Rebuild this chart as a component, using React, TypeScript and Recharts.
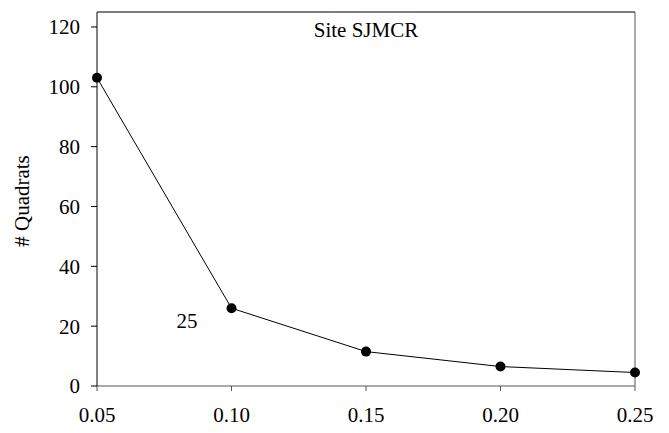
import { LineChart, Line, XAxis, YAxis, ReferenceLine, ReferenceDot } from "recharts";

const thresholds = [0.05, 0.1, 0.15, 0.2, 0.25];
const quadrats = [103, 26, 11.5, 6.5, 4.5];
const xTicks = [0.05, 0.1, 0.15, 0.2, 0.25];
const yTicks = [0, 20, 40, 60, 80, 100, 120];

const data = thresholds.map((t, i) => ({ t, n: quadrats[i] }));

const FONT = "'Liberation Serif', 'Times New Roman', serif";
const FS = 21;

export default function App() {
  return (
    <div style={{ position: "absolute", left: 0, top: 0, background: "#fff" }}>
      <LineChart
        width={669}
        height={433}
        data={data}
        margin={{ top: 12, right: 34, left: 0, bottom: 0 }}
      >
        <XAxis
          dataKey="t"
          type="number"
          domain={[0.05, 0.25]}
          ticks={xTicks}
          tickFormatter={(v: number) => v.toFixed(2)}
          height={47}
          stroke="#555"
          tickSize={5}
          tickMargin={16}
          tick={{ fill: "#000", fontSize: FS, fontFamily: FONT }}
        />
        <YAxis
          type="number"
          domain={[0, 125]}
          ticks={yTicks}
          width={97}
          stroke="#000"
          tickSize={6}
          tickMargin={11}
          tick={{ fill: "#000", fontSize: FS, fontFamily: FONT }}
          label={{
            content: ({ viewBox }: any) => {
              const x = viewBox.x + 22;
              const y = viewBox.y + viewBox.height / 2 + 2;
              return (
                <text
                  x={x}
                  y={y}
                  transform={`rotate(-90 ${x} ${y})`}
                  textAnchor="middle"
                  dominantBaseline="central"
                  fontSize={FS}
                  fontFamily={FONT}
                  fill="#000"
                >
                  # Quadrats
                </text>
              );
            },
          }}
        />
        {/* frame on top and right */}
        <ReferenceLine y={125} stroke="#000" />
        <ReferenceLine x={0.25} stroke="#555" />
        <ReferenceDot
          x={0.15}
          y={119}
          r={0}
          label={{ value: "Site SJMCR", position: "center", fontSize: FS, fontFamily: FONT, fill: "#000" }}
        />
        <ReferenceDot
          x={0.0835}
          y={22}
          r={0}
          label={{ value: "25", position: "center", fontSize: FS, fontFamily: FONT, fill: "#000" }}
        />
        <Line
          dataKey="n"
          stroke="#000"
          strokeWidth={1}
          dot={{ r: 5, fill: "#000", stroke: "#000", strokeWidth: 0 }}
          isAnimationActive={false}
        />
      </LineChart>
    </div>
  );
}
